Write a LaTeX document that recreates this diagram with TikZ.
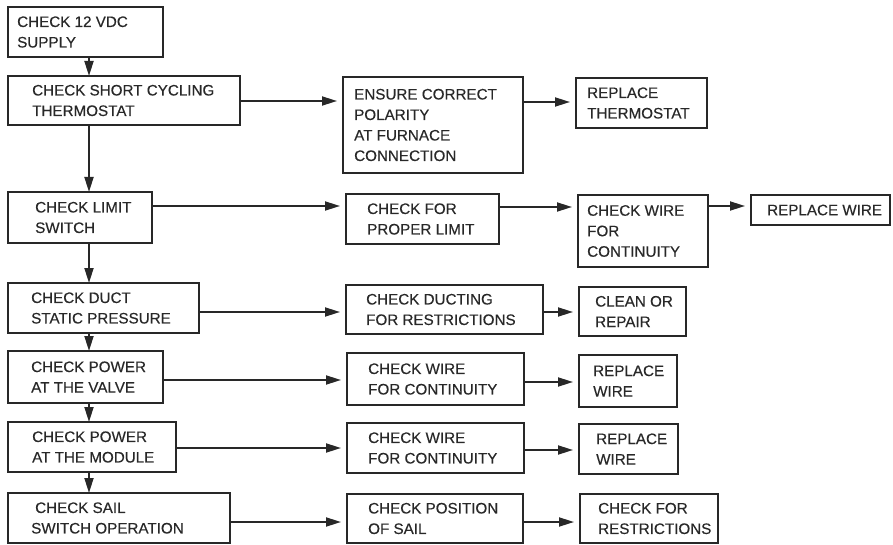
\documentclass[tikz,border=0pt]{standalone}
\usepackage{fontspec}
\setmainfont[FakeBold=0.35]{Liberation Sans}
\usetikzlibrary{calc,arrows.meta}
\definecolor{ink}{RGB}{40,40,40}
\newcommand{\mkbox}[7]{%
  \node[bx, minimum width={#4-#2}, minimum height={#5-#3}, anchor=north west] (#1) at (#2,#3) {};
  \node[tx, anchor=west] (#1t) at ($(#1.west)+(#6,0)$) {#7};
}
\begin{document}
\begin{tikzpicture}[x=1pt,y=-1pt,
  bx/.style={draw=ink, line width=1.9pt, rectangle, inner sep=0pt, outer sep=0pt},
  tx/.style={text=ink, font=\fontsize{15.2}{20.5}\selectfont, align=left, inner sep=0pt},
  arr/.style={draw=ink, line width=1.8pt, -{Triangle[length=15pt,width=9pt]}},
  harr/.style={arr, shorten >=6pt}]
\useasboundingbox (0,0) rectangle (893,545);
\mkbox{A}{8}{7}{163}{57}{9}{CHECK 12 VDC\\SUPPLY}
\mkbox{B}{8}{76}{240}{125}{24}{CHECK SHORT CYCLING\\THERMOSTAT}
\mkbox{C}{343}{77}{523}{173}{11}{ENSURE CORRECT\\POLARITY\\AT FURNACE\\CONNECTION}
\mkbox{E}{576}{78}{707}{128}{11}{REPLACE\\THERMOSTAT}
\mkbox{D}{8}{192}{152}{243}{27}{CHECK LIMIT\\SWITCH}
\mkbox{F}{346}{194}{499}{244}{21}{CHECK FOR\\PROPER LIMIT}
\mkbox{G}{578}{195}{708}{267}{9}{CHECK WIRE\\FOR\\CONTINUITY}
\mkbox{H}{751}{195}{890}{225}{16}{REPLACE WIRE}
\mkbox{I}{8}{283}{199}{333}{23}{CHECK DUCT\\STATIC PRESSURE}
\mkbox{M}{346}{285}{543}{334}{20}{CHECK DUCTING\\FOR RESTRICTIONS}
\mkbox{N}{579}{287}{686}{336}{16}{CLEAN OR\\REPAIR}
\mkbox{J}{8}{351}{163}{403}{23}{CHECK POWER\\AT THE VALVE}
\mkbox{O}{347}{353}{524}{405}{21}{CHECK WIRE\\FOR CONTINUITY}
\mkbox{P}{579}{355}{677}{407}{14}{REPLACE\\WIRE}
\mkbox{K}{8}{422}{176}{472}{24}{CHECK POWER\\AT THE MODULE}
\mkbox{Q}{347}{423}{524}{473}{21}{CHECK WIRE\\FOR CONTINUITY}
\mkbox{R}{579}{424}{678}{474}{17}{REPLACE\\WIRE}
\mkbox{L}{8}{493}{230}{543}{23}{\hspace*{4pt}CHECK SAIL\\SWITCH OPERATION}
\mkbox{S}{347}{494}{523}{543}{21}{CHECK POSITION\\OF SAIL}
\mkbox{T}{580}{494}{718}{543}{18}{CHECK FOR\\RESTRICTIONS}
% vertical spine
\coordinate (vx) at (89,0);
\draw[arr] (A.south -| vx) -- (B.north -| vx);
\draw[arr] (B.south -| vx) -- (D.north -| vx);
\draw[arr] (D.south -| vx) -- (I.north -| vx);
\draw[arr] (I.south -| vx) -- (J.north -| vx);
\draw[arr] (J.south -| vx) -- (K.north -| vx);
\draw[arr] (K.south -| vx) -- (L.north -| vx);
% row levels
\coordinate (r1) at (0,101);
\coordinate (r1b) at (0,102);
\coordinate (r2) at (0,206);
\coordinate (r2b) at (0,207);
\coordinate (r3) at (0,312);
\coordinate (r4) at (0,380);
\coordinate (r4b) at (0,382);
\coordinate (r5) at (0,448);
\coordinate (r5b) at (0,450);
\coordinate (r6) at (0,522);
\draw[harr] (B.east |- r1) -- (C.west |- r1);
\draw[harr] (C.east |- r1b) -- (E.west |- r1b);
\draw[harr] (D.east |- r2) -- (F.west |- r2);
\draw[harr] (F.east |- r2b) -- (G.west |- r2b);
\draw[harr] (G.east |- r2) -- (H.west |- r2);
\draw[harr] (I.east |- r3) -- (M.west |- r3);
\draw[harr] (M.east |- r3) -- (N.west |- r3);
\draw[harr] (J.east |- r4) -- (O.west |- r4);
\draw[harr] (O.east |- r4b) -- (P.west |- r4b);
\draw[harr] (K.east |- r5) -- (Q.west |- r5);
\draw[harr] (Q.east |- r5b) -- (R.west |- r5b);
\draw[harr] (L.east |- r6) -- (S.west |- r6);
\draw[harr] (S.east |- r6) -- (T.west |- r6);
\end{tikzpicture}
\end{document}
